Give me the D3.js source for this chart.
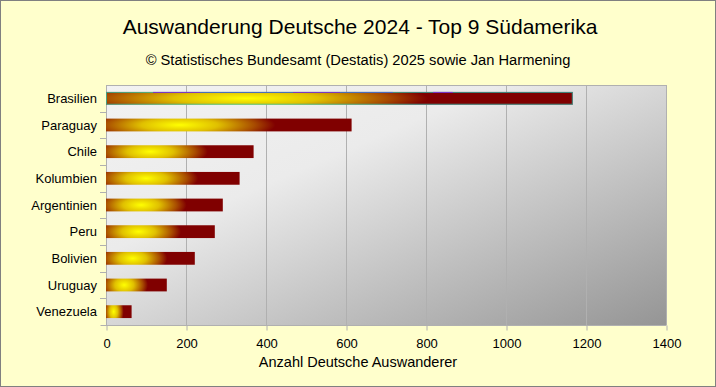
<!DOCTYPE html>
<html>
<head>
<meta charset="utf-8">
<script src="https://cdn.jsdelivr.net/npm/d3@7"></script>
<style>
  body { margin: 0; background: #fff; }
  svg { display: block; font-family: "Liberation Sans", Arial, sans-serif; }
</style>
</head>
<body>
<script>
const countries = ["Brasilien", "Paraguay", "Chile", "Kolumbien", "Argentinien", "Peru", "Bolivien", "Uruguay", "Venezuela"];
const emigrants = [1167, 614, 369, 334, 292, 272, 222, 152, 64];
const xTicks = [0, 200, 400, 600, 800, 1000, 1200, 1400];

const title = "Auswanderung Deutsche 2024 - Top 9 Südamerika";
const subtitle = "© Statistisches Bundesamt (Destatis) 2025 sowie Jan Harmening";
const xTitle = "Anzahl Deutsche Auswanderer";

function main() {
  const width = 716;
  const height = 387;
  const marginTop = 85;
  const marginRight = 50;
  const marginBottom = 62;
  const marginLeft = 106;

  const x = d3.scaleLinear()
    .domain([0, 1400])
    .range([marginLeft, width - marginRight]);

  const y = d3.scaleBand()
    .domain(countries)
    .range([marginTop, height - marginBottom])
    .paddingInner(0.52)
    .paddingOuter(0.26);

  const svg = d3.create("svg")
    .attr("width", width)
    .attr("height", height);

  const defs = svg.append("defs");

  const bg = defs.append("linearGradient")
    .attr("id", "plotbg")
    .attr("x1", 0).attr("y1", 0).attr("x2", 1).attr("y2", 1);
  bg.append("stop").attr("offset", 0).attr("stop-color", "#f2f2f2");
  bg.append("stop").attr("offset", 0.35).attr("stop-color", "#ebebeb");
  bg.append("stop").attr("offset", 1).attr("stop-color", "#959595");

  const bar = defs.append("radialGradient")
    .attr("id", "bargrad")
    .attr("cx", 0).attr("cy", 0).attr("r", 1)
    .attr("gradientTransform", "translate(0.3,0.5) scale(0.39,1.3)");
  bar.append("stop").attr("offset", 0).attr("stop-color", "#ffff00");
  bar.append("stop").attr("offset", 0.4).attr("stop-color", "#e0c000");
  bar.append("stop").attr("offset", 0.78).attr("stop-color", "#a84c00");
  bar.append("stop").attr("offset", 1).attr("stop-color", "#800000");

  // background + frame
  svg.append("rect")
    .attr("x", 0.5).attr("y", 0.5)
    .attr("width", width - 1).attr("height", height - 1)
    .attr("fill", "#ffffcc")
    .attr("stroke", "#808080");

  // plot area
  svg.append("rect")
    .attr("x", marginLeft).attr("y", marginTop)
    .attr("width", x(1400) - marginLeft)
    .attr("height", height - marginBottom - marginTop)
    .attr("fill", "url(#plotbg)");

  // grid
  svg.append("g")
    .attr("stroke", "#b0b0b0")
    .selectAll("line")
    .data(xTicks)
    .join("line")
    .attr("x1", d => x(d) + 0.5).attr("x2", d => x(d) + 0.5)
    .attr("y1", marginTop).attr("y2", height - marginBottom);

  svg.append("line")
    .attr("x1", marginLeft).attr("x2", x(1400) + 0.5)
    .attr("y1", marginTop + 0.5).attr("y2", marginTop + 0.5)
    .attr("stroke", "#b0b0b0");

  // x axis
  const xAxis = svg.append("g")
    .attr("transform", `translate(0.5,${height - marginBottom + 0.5})`)
    .call(d3.axisBottom(x).tickValues(xTicks).tickFormat(d3.format("d")).tickSize(5).tickPadding(8));
  xAxis.select(".domain").attr("stroke", "#b0b0b0").attr("d", `M${marginLeft - 6},0H${x(1400)}`);
  xAxis.selectAll(".tick line").attr("stroke", "#b0b0b0");
  xAxis.selectAll("text").attr("font-size", 13).attr("fill", "#000").attr("font-family", null);

  // y axis: ticks at band boundaries
  const step = y.step();
  const bounds = countries.slice(1).map(c => y(c) - (step - y.bandwidth()) / 2);
  svg.append("g")
    .attr("stroke", "#b0b0b0")
    .selectAll("line")
    .data(bounds)
    .join("line")
    .attr("x1", marginLeft - 6).attr("x2", marginLeft)
    .attr("y1", d => Math.round(d) + 0.5).attr("y2", d => Math.round(d) + 0.5);
  svg.append("line")
    .attr("x1", marginLeft + 0.5).attr("x2", marginLeft + 0.5)
    .attr("y1", marginTop).attr("y2", height - marginBottom)
    .attr("stroke", "#b0b0b0");

  svg.append("g")
    .selectAll("text")
    .data(countries)
    .join("text")
    .attr("x", marginLeft - 9)
    .attr("y", d => y(d) + y.bandwidth() / 2)
    .attr("dy", "0.35em")
    .attr("text-anchor", "end")
    .attr("font-size", 13)
    .text(d => d);

  // bars
  svg.append("g")
    .selectAll("rect")
    .data(countries)
    .join("rect")
    .attr("x", x(0))
    .attr("y", d => y(d))
    .attr("width", (d, i) => x(emigrants[i]) - x(0))
    .attr("height", y.bandwidth())
    .attr("fill", "url(#bargrad)");

  // highlight outline on first bar
  const b0 = countries[0];
  svg.append("rect")
    .attr("x", x(0) + 0.5)
    .attr("y", y(b0) + 0.5)
    .attr("width", x(emigrants[0]) - x(0) - 1)
    .attr("height", y.bandwidth() - 1)
    .attr("fill", "none")
    .attr("stroke", "#20c8b8")
    .attr("stroke-opacity", 0.7);
  svg.append("line")
    .attr("x1", x(0) + 47).attr("x2", x(emigrants[0]) - 120)
    .attr("y1", y(b0) + 0.5).attr("y2", y(b0) + 0.5)
    .attr("stroke", "#7a30c8")
    .attr("stroke-dasharray", "47,93");
  svg.append("line")
    .attr("x1", x(0) + 94).attr("x2", x(emigrants[0]) - 180)
    .attr("y1", y(b0) + 0.5).attr("y2", y(b0) + 0.5)
    .attr("stroke", "#4a68c0")
    .attr("stroke-dasharray", "93,47");

  // titles
  svg.append("text")
    .attr("x", 360).attr("y", 34)
    .attr("text-anchor", "middle")
    .attr("font-size", 21)
    .text(title);
  svg.append("text")
    .attr("x", 358).attr("y", 65)
    .attr("text-anchor", "middle")
    .attr("font-size", 14.7)
    .text(subtitle);
  svg.append("text")
    .attr("x", 358).attr("y", 367)
    .attr("text-anchor", "middle")
    .attr("font-size", 14.5)
    .text(xTitle);

  document.body.appendChild(svg.node());
}

main();
</script>
</body>
</html>
